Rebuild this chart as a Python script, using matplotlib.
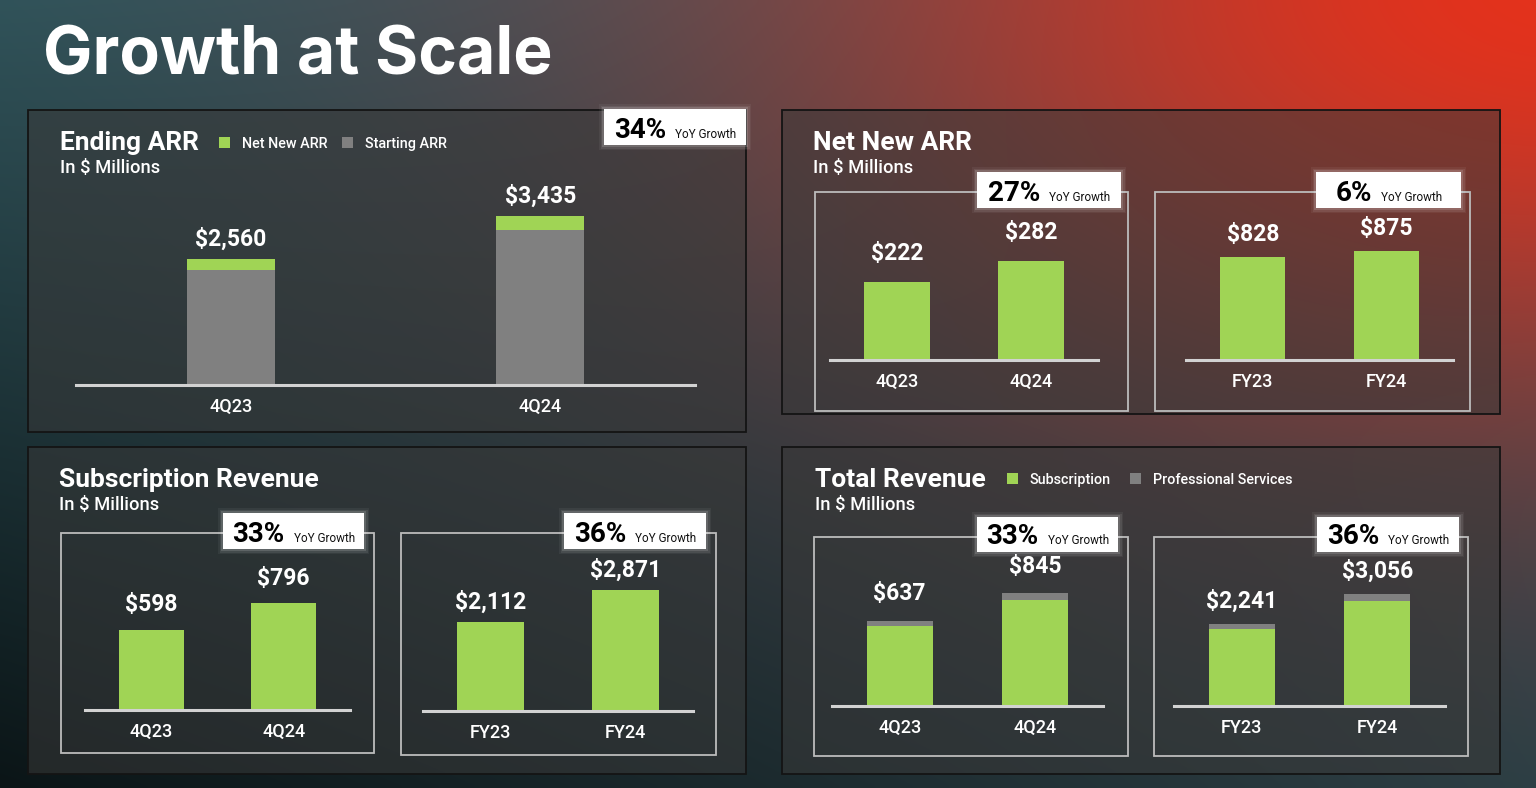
import numpy as np
import matplotlib
matplotlib.use("Agg")
import matplotlib.pyplot as plt
from matplotlib.patches import Rectangle
from matplotlib.colors import to_rgb

W, H = 1536, 788

# ---------------- data ----------------
title = "Growth at Scale"

arr_cats = ["4Q23", "4Q24"]
arr_starting = [2338, 3153]
arr_net_new = [222, 282]
arr_yoy = "34%"

nn_q_cats = ["4Q23", "4Q24"]
nn_q_vals = [222, 282]
nn_q_yoy = "27%"
nn_fy_cats = ["FY23", "FY24"]
nn_fy_vals = [828, 875]
nn_fy_yoy = "6%"

sub_q_cats = ["4Q23", "4Q24"]
sub_q_vals = [598, 796]
sub_q_yoy = "33%"
sub_fy_cats = ["FY23", "FY24"]
sub_fy_vals = [2112, 2871]
sub_fy_yoy = "36%"

tot_q_cats = ["4Q23", "4Q24"]
tot_q_sub = [598, 796]
tot_q_ps = [39, 49]
tot_q_yoy = "33%"
tot_fy_cats = ["FY23", "FY24"]
tot_fy_sub = [2112, 2871]
tot_fy_ps = [129, 185]
tot_fy_yoy = "36%"

GREEN = "#a0d455"
GRAY = "#808080"
FONT = "Roboto"
TFONT = "Inter"

# ---------------- figure & background ----------------
fig = plt.figure(figsize=(W / 100, H / 100), dpi=100)
bg = fig.add_axes([0, 0, 1, 1])
ny, nx = 197, 384
X, Y = np.meshgrid(np.linspace(0, W, nx), np.linspace(0, H, ny))
u = (X / W)[..., None]
v = (Y / H)[..., None]
TL, TR, BL, BR = [np.array(to_rgb(c)) for c in ("#2f535a", "#5a4e58", "#0b1517", "#2a3f45")]
base = (1 - u) * (1 - v) * TL + u * (1 - v) * TR + (1 - u) * v * BL + u * v * BR
w = np.exp(-(((X - 1570) / 720) ** 2 + ((Y + 20) / 400) ** 2))[..., None]
img = base * (1 - w) + np.array(to_rgb("#e4321c")) * w
bg.imshow(img, extent=(0, W, H, 0), aspect="auto", interpolation="bilinear", zorder=0)
bg.set_xlim(0, W)
bg.set_ylim(H, 0)
bg.axis("off")

renderer = fig.canvas.get_renderer()


def panel(x0, y0, x1, y1):
    bg.add_patch(Rectangle((x0, y0), x1 - x0, y1 - y0, facecolor="#383838", alpha=0.55,
                           edgecolor="none", zorder=1))
    bg.add_patch(Rectangle((x0, y0), x1 - x0, y1 - y0, facecolor="none",
                           edgecolor="#141414", lw=1.3, zorder=2))


def subbox(x0, y0, x1, y1):
    bg.add_patch(Rectangle((x0, y0), x1 - x0, y1 - y0, fill=False,
                           edgecolor="#bcbcbc", lw=1.3, zorder=3))


def yoy(x0, y0, x1, y1, pct):
    for k, a in [(5, 0.05), (3.5, 0.08), (2, 0.14)]:
        bg.add_patch(Rectangle((x0 - k, y0 - k), x1 - x0 + 2 * k, y1 - y0 + 2 * k,
                               facecolor="white", alpha=a, edgecolor="none", zorder=4))
    bg.add_patch(Rectangle((x0, y0), x1 - x0, y1 - y0, facecolor="white",
                           edgecolor="none", zorder=5))
    yb = y1 - 7.5
    t1 = bg.text(0, yb, pct, fontsize=20, fontweight="bold", color="black",
                 family=FONT, va="baseline", ha="left", zorder=6)
    t2 = bg.text(0, yb, "YoY Growth", fontsize=8.5, color="#111111",
                 family=FONT, va="baseline", ha="left", zorder=6)
    w1 = t1.get_window_extent(renderer).width
    w2 = t2.get_window_extent(renderer).width
    gap = 9
    xs = (x0 + x1) / 2 - (w1 + gap + w2) / 2
    t1.set_x(xs)
    t2.set_x(xs + w1 + gap)


def heading(x, y, text, sub_y):
    bg.text(x, y, text, fontsize=19, fontweight="bold", color="white", family=FONT,
            va="baseline", ha="left", zorder=6)
    bg.text(x, sub_y, "In $ Millions", fontsize=13.2, fontweight="medium", color="white",
            family=FONT, va="baseline", ha="left", zorder=6)


def legend_item(x, y, color, label):
    bg.add_patch(Rectangle((x, y - 11), 11, 11, facecolor=color, edgecolor="none", zorder=6))
    bg.text(x + 23, y, label, fontsize=10.4, fontweight="medium", color="white",
            family=FONT, va="baseline", ha="left", zorder=6)


def bar_axes(xl, xr, yb, scale, cats, top_px=220):
    ax = fig.add_axes([xl / W, (H - yb) / H, (xr - xl) / W, top_px / H])
    ax.set_xlim(-0.5, 1.5)
    ax.set_ylim(0, top_px * scale)
    ax.patch.set_alpha(0)
    for s in ax.spines.values():
        s.set_visible(False)
    ax.axhline(0, color="#d2d2d2", lw=2.2, clip_on=False, zorder=3)
    ax.set_yticks([])
    ax.set_xticks(range(len(cats)))
    ax.set_xticklabels(cats, family=FONT, fontsize=13, fontweight="medium", color="white")
    ax.tick_params(axis="x", length=0, pad=9.5)
    return ax


def value_labels(ax, totals, off_px):
    for i, t in enumerate(totals):
        ax.annotate(f"${t:,}", xy=(i, t), xytext=(0, off_px * 0.72), textcoords="offset points",
                    ha="center", va="center", fontsize=16.5, fontweight="bold",
                    color="white", family=FONT)


# ---------------- title ----------------
bg.text(43, 74, title, fontsize=47.5, fontweight="bold", color="white", family=TFONT,
        va="baseline", ha="left", zorder=6)

# ---------------- panels ----------------
panel(28, 110, 746, 432)
panel(782, 110, 1500, 414)
panel(28, 447, 746, 774)
panel(782, 447, 1500, 774)

# Ending ARR
heading(60, 150, "Ending ARR", 173)
legend_item(219, 148, GREEN, "Net New ARR")
legend_item(342, 148, GRAY, "Starting ARR")
yoy(604, 109, 746, 145, arr_yoy)
ax = bar_axes(76, 695, 385, 20.3, arr_cats)
xi = np.arange(len(arr_cats))
ax.bar(xi, arr_starting, width=0.285, color=GRAY, zorder=2)
ax.bar(xi, arr_net_new, bottom=arr_starting, width=0.285, color=GREEN, zorder=2)
value_labels(ax, [s + n for s, n in zip(arr_starting, arr_net_new)], 20)

# Net New ARR
heading(813, 150, "Net New ARR", 173)
subbox(815, 192, 1128, 411)
subbox(1155, 192, 1470, 411)
yoy(977, 172, 1121, 208, nn_q_yoy)
yoy(1316, 172, 1461, 208, nn_fy_yoy)
ax = bar_axes(830, 1098, 360, 2.85, nn_q_cats, top_px=150)
ax.bar(range(2), nn_q_vals, width=0.49, color=GREEN, zorder=2)
value_labels(ax, nn_q_vals, 29)
ax = bar_axes(1186, 1453, 360, 8.04, nn_fy_cats, top_px=150)
ax.bar(range(2), nn_fy_vals, width=0.49, color=GREEN, zorder=2)
value_labels(ax, nn_fy_vals, 23)

# Subscription Revenue
heading(59, 487, "Subscription Revenue", 510)
subbox(61, 533, 374, 753)
subbox(401, 533, 716, 755)
yoy(223, 513, 364, 549, sub_q_yoy)
yoy(564, 513, 706, 549, sub_fy_yoy)
ax = bar_axes(85, 350, 710, 7.46, sub_q_cats, top_px=150)
ax.bar(range(2), sub_q_vals, width=0.49, color=GREEN, zorder=2)
value_labels(ax, sub_q_vals, 25)
ax = bar_axes(423, 693, 711, 23.7, sub_fy_cats, top_px=150)
ax.bar(range(2), sub_fy_vals, width=0.49, color=GREEN, zorder=2)
value_labels(ax, sub_fy_vals, 20)

# Total Revenue
heading(815, 487, "Total Revenue", 510)
legend_item(1007, 484, GREEN, "Subscription")
legend_item(1130, 484, GRAY, "Professional Services")
subbox(814, 537, 1128, 756)
subbox(1154, 537, 1468, 756)
yoy(977, 517, 1118, 552, tot_q_yoy)
yoy(1317, 517, 1459, 552, tot_fy_yoy)
ax = bar_axes(832, 1103, 706, 7.48, tot_q_cats, top_px=150)
ax.bar(range(2), tot_q_sub, width=0.49, color=GREEN, zorder=2)
ax.bar(range(2), tot_q_ps, bottom=tot_q_sub, width=0.49, color=GRAY, zorder=2)
value_labels(ax, [a + b for a, b in zip(tot_q_sub, tot_q_ps)], 27)
ax = bar_axes(1174, 1445, 706, 27.3, tot_fy_cats, top_px=150)
ax.bar(range(2), tot_fy_sub, width=0.49, color=GREEN, zorder=2)
ax.bar(range(2), tot_fy_ps, bottom=tot_fy_sub, width=0.49, color=GRAY, zorder=2)
value_labels(ax, [a + b for a, b in zip(tot_fy_sub, tot_fy_ps)], 23)

fig.savefig("out.png", dpi=100)
